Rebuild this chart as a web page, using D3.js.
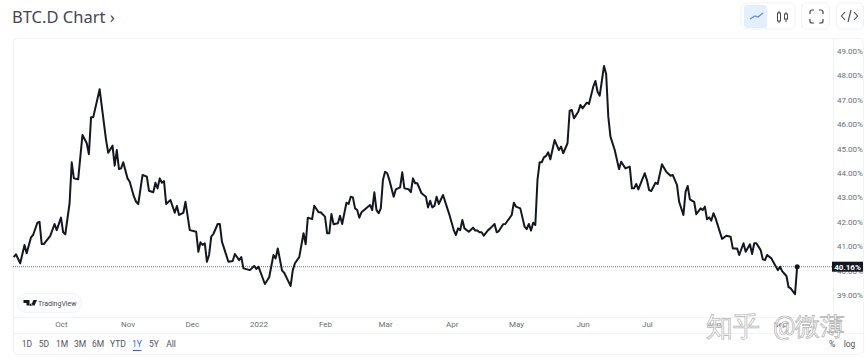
<!DOCTYPE html>
<html>
<head>
	<meta charset="utf-8">
	<title>BTC.D Chart</title>
	<script src="https://cdn.jsdelivr.net/npm/d3@7"></script>
	<style>
		html, body { margin: 0; padding: 0; background: #fff; }
		svg { display: block; }
		text { font-family: Roboto, "Liberation Sans", sans-serif; }
	</style>
</head>
<body>
	<div id="chart"></div>
	<script>
		// days counted from 2021-10-01
		const dayOffsets = [
			-22,-21,-19,-17,-16,-14,-13,-11,-10,-9,-8,-5,-3,-2,0,1,2,4,5,6,8,10,12,13,14,15,18,21,22,24,25,26,27,28,29,31,32,34,35,36,38,40,41,43,44,45,46,47,48,49,
			51,53,54,55,57,58,60,63,64,65,66,67,68,69,70,71,73,74,75,76,78,80,81,83,84,85,88,90,91,92,95,97,99,100,101,103,104,106,107,108,109,111,113,114,115,117,118,120,121,123,
			124,125,126,127,129,130,131,133,134,135,136,137,138,139,140,144,145,146,147,148,149,150,151,152,153,155,156,158,159,160,162,163,164,165,166,168,170,171,172,173,174,175,176,178,180,181,183,184,185,186,
			187,188,190,192,193,194,195,196,197,199,200,202,203,204,206,207,210,211,212,214,216,217,218,219,220,221,222,223,224,225,226,227,228,230,232,233,234,236,237,238,239,241,242,243,245,246,248,249,250,251,
			253,254,255,256,258,260,261,263,265,266,267,268,269,272,273,274,275,277,278,280,282,284,285,287,288,290,291,292,293,295,296,298,299,300,301,302,303,304,305,308,310,312,313,315,316,318,319,321,322,323,
			324,326,327,328,329,331,334,335,336,338,339,340,342,343
		];
		// BTC dominance, percent
		const dominance = [
			40.55,40.67,40.30,41.05,40.71,41.36,41.46,41.96,42.00,41.09,41.09,41.42,41.91,41.66,42.17,41.57,41.49,42.76,44.44,43.78,43.74,45.56,45.22,44.77,46.28,46.28,47.43,45.35,44.83,45.12,44.30,44.94,44.16,44.19,44.44,43.78,43.64,43.03,42.82,42.73,43.92,43.85,43.27,43.21,43.60,43.37,43.78,43.60,43.67,42.73,
			42.89,42.37,42.65,42.28,42.37,42.82,41.66,41.59,40.77,41.16,41.05,41.12,40.36,40.64,41.39,41.50,41.91,41.91,41.18,40.91,40.36,40.39,40.68,40.43,40.55,40.09,40.02,40.19,40.07,40.16,39.45,39.73,40.64,40.50,40.91,40.00,39.91,39.55,39.37,40.02,40.30,40.55,41.53,41.08,42.17,42.11,42.66,42.39,42.39,42.21,
			41.53,41.53,42.32,41.90,41.94,42.25,41.91,42.78,42.73,43.03,43.00,42.55,42.48,42.17,42.39,42.69,42.48,43.21,42.48,42.35,42.55,43.71,44.05,43.99,43.71,43.03,43.33,43.41,44.03,43.37,43.33,43.21,43.78,43.58,43.58,43.17,43.03,42.59,42.86,42.59,42.65,43.03,42.73,43.10,42.55,42.28,41.66,41.46,41.73,41.66,
			42.07,41.73,41.59,41.76,41.64,41.64,41.57,41.57,41.43,41.66,41.73,41.91,41.57,41.62,41.90,41.91,42.28,42.78,42.62,42.55,41.80,41.70,41.91,41.64,41.96,41.87,43.71,44.44,44.44,44.64,44.70,44.85,44.56,45.35,44.94,45.08,44.81,45.22,46.55,46.58,46.24,46.51,46.79,46.65,46.88,46.83,47.54,47.77,47.33,47.17,
			48.39,48.06,46.31,45.49,44.94,44.16,44.46,44.19,44.26,43.37,43.37,43.55,43.33,43.99,43.71,43.30,43.26,43.60,43.55,44.36,44.05,43.89,43.92,43.51,42.82,42.28,43.23,43.47,42.92,42.82,42.31,42.55,42.48,42.62,42.10,42.18,42.05,42.35,42.14,41.30,41.43,41.39,40.91,40.91,40.64,41.12,40.77,41.08,40.68,41.12,
			41.12,40.84,40.46,40.43,40.64,40.50,40.02,40.16,39.98,39.78,39.32,39.27,39.03,40.16
		];
		const priceTicks = [39, 40, 41, 42, 43, 44, 45, 46, 47, 48, 49];
		const monthTicks = ["2021-10-01", "2021-11-01", "2021-12-01", "2022-01-01", "2022-02-01", "2022-03-01", "2022-04-01", "2022-05-01", "2022-06-01", "2022-07-01", "2022-08-01", "2022-09-01"];
		const monthLabels = ["Oct", "Nov", "Dec", "2022", "Feb", "Mar", "Apr", "May", "Jun", "Jul", "Aug", "Sep"];
		const rangeLabels = ["1D", "5D", "1M", "3M", "6M", "YTD", "1Y", "5Y", "All"];
		const rangeCentres = [27, 44, 62, 80, 98, 118, 137, 154, 171];
		const lastPrice = 40.16;

		const width = 868;
		const height = 360;
		const lineColor = "#131722";
		const axisText = "#6a6d78";
		const border = "#f0f3fa";

		const svg = d3.select("#chart").append("svg")
			.attr("width", width)
			.attr("height", height)
			.attr("viewBox", [0, 0, width, height]);

		const base = new Date(Date.UTC(2021, 9, 1));
		const dates = dayOffsets.map(d => d3.utcDay.offset(base, d));
		const xScale = d3.scaleUtc()
			.domain([new Date(monthTicks[0]), new Date(monthTicks[11])])
			.range([61, 780]);
		const yScale = d3.scaleLinear().domain([39, 49]).range([295, 51]);

		// title and toolbar
		svg.append("text").attr("x", 12).attr("y", 22.5)
			.attr("fill", "#434651")
			.style("font-family", "'Noto Sans', sans-serif")
			.style("font-size", "16.5px")
			.text("BTC.D Chart ›");

		const buttons = svg.append("g").attr("fill", "#fff").attr("stroke", border);
		buttons.append("rect").attr("x", 741).attr("y", 3).attr("width", 54).attr("height", 26).attr("rx", 5);
		buttons.append("rect").attr("x", 801.5).attr("y", 3).attr("width", 28).attr("height", 26).attr("rx", 5);
		buttons.append("rect").attr("x", 836.5).attr("y", 3).attr("width", 27).attr("height", 26).attr("rx", 5);
		svg.append("rect").attr("x", 744).attr("y", 5).attr("width", 23).attr("height", 23).attr("rx", 3).attr("fill", "#e3effd");
		svg.append("path").attr("d", "M750 19l5-3 3 1 5-4").attr("fill", "none").attr("stroke", "#5a8fd8").attr("stroke-width", 1.2);
		svg.append("path").attr("d", "M779 11v12M786 12v10").attr("stroke", "#434651").attr("stroke-width", 1);
		svg.append("rect").attr("x", 777.5).attr("y", 13).attr("width", 3).attr("height", 8).attr("fill", "#fff").attr("stroke", "#434651");
		svg.append("rect").attr("x", 784.5).attr("y", 14).attr("width", 3).attr("height", 5).attr("fill", "#fff").attr("stroke", "#434651");
		svg.append("path")
			.attr("d", "M810 14v-2q0-2 2-2h2M819 10h2q2 0 2 2v2M823 19v2q0 2-2 2h-2M814 23h-2q-2 0-2-2v-2")
			.attr("fill", "none").attr("stroke", "#434651").attr("stroke-width", 1.2);
		svg.append("path")
			.attr("d", "M845 12l-3.5 4 3.5 4M854 12l3.5 4-3.5 4M851 10l-3 12")
			.attr("fill", "none").attr("stroke", "#434651").attr("stroke-width", 1.1);

		// chart frame
		const frame = svg.append("g").attr("fill", "none").attr("stroke", border);
		frame.append("rect").attr("x", 13.5).attr("y", 38.5).attr("width", 850).attr("height", 316).attr("rx", 4);
		frame.append("path").attr("d", "M833.5 38.5V317M13.5 317.5H833.5M13.5 333.5H863.5");

		// price axis
		svg.append("g")
			.attr("transform", "translate(837,0)")
			.call(d3.axisRight(yScale).tickValues(priceTicks).tickSize(0).tickPadding(0).tickFormat(d => d.toFixed(2) + "%"))
			.call(g => g.select(".domain").remove())
			.call(g => g.selectAll("text").attr("fill", axisText).style("font-size", "8px"));

		// time axis
		svg.append("g")
			.attr("transform", "translate(0,321)")
			.call(d3.axisBottom(xScale)
				.tickValues(monthTicks.map(d => new Date(d)))
				.tickSize(0).tickPadding(0)
				.tickFormat((d, i) => monthLabels[i]))
			.call(g => g.select(".domain").remove())
			.call(g => g.selectAll("text").attr("fill", axisText).style("font-size", "8px"));

		// last price line
		svg.append("line")
			.attr("x1", 13).attr("x2", 833)
			.attr("y1", yScale(lastPrice)).attr("y2", yScale(lastPrice))
			.attr("stroke", lineColor).attr("stroke-width", 0.8).attr("stroke-opacity", 0.75).attr("stroke-dasharray", "1 1");

		const line = d3.line()
			.x((d, i) => xScale(dates[i]))
			.y(d => yScale(d));

		svg.append("path")
			.attr("fill", "none")
			.attr("stroke", lineColor)
			.attr("stroke-width", 2)
			.attr("stroke-linejoin", "round")
			.attr("d", line(dominance));

		svg.append("circle")
			.attr("cx", xScale(dates[dates.length - 1]))
			.attr("cy", yScale(lastPrice))
			.attr("r", 2.5)
			.attr("fill", lineColor);

		// last price tag
		svg.append("rect")
			.attr("x", 832).attr("y", yScale(lastPrice) - 5)
			.attr("width", 31).attr("height", 10)
			.attr("fill", lineColor);
		svg.append("text")
			.attr("x", 847.5).attr("y", yScale(lastPrice) + 3)
			.attr("text-anchor", "middle")
			.attr("fill", "#fff")
			.style("font-size", "8px").style("font-weight", 700)
			.text(lastPrice.toFixed(2) + "%");

		// TradingView badge
		svg.append("rect").attr("x", 17.5).attr("y", 293.5).attr("width", 64).attr("height", 19).attr("rx", 9.5)
			.attr("fill", "#fff").attr("stroke", border);
		svg.append("path").attr("d", "M23.5 300h6v5.5h-3V303h-3zM31 303.5a1.3 1.3 0 1 0 .01 0M33.5 300h3.5l-2.5 5.5H31z")
			.attr("fill", lineColor);
		svg.append("text").attr("x", 38).attr("y", 306)
			.attr("fill", "#434651").style("font-size", "7px").text("TradingView");

		// range buttons
		svg.append("g").selectAll("text").data(rangeLabels).join("text")
			.attr("x", (d, i) => rangeCentres[i])
			.attr("y", 347)
			.attr("text-anchor", "middle")
			.attr("fill", d => d === "1Y" ? "#2962ff" : "#50535e")
			.style("font-size", "8.5px")
			.text(d => d);
		svg.append("line").attr("x1", 133).attr("x2", 141.5).attr("y1", 350.5).attr("y2", 350.5).attr("stroke", "#2962ff");
		svg.append("text").attr("x", 832).attr("y", 347).attr("text-anchor", "middle").attr("fill", "#50535e").style("font-size", "8.5px").text("%");
		svg.append("text").attr("x", 849.5).attr("y", 347).attr("text-anchor", "middle").attr("fill", "#50535e").style("font-size", "8.5px").text("log");

		// watermark
		const watermark = svg.append("g")
			.attr("fill", "#fff").attr("fill-opacity", 0.85)
			.attr("stroke", "#b5b5b5").attr("stroke-width", 0.7)
			.style("font-family", "'Noto Sans CJK SC', sans-serif");
		watermark.append("text").attr("x", 706).attr("y", 336).style("font-size", "27px").text("知乎");
		watermark.append("text").attr("x", 773).attr("y", 335).style("font-size", "25px").text("@微薄");
	</script>
</body>
</html>
